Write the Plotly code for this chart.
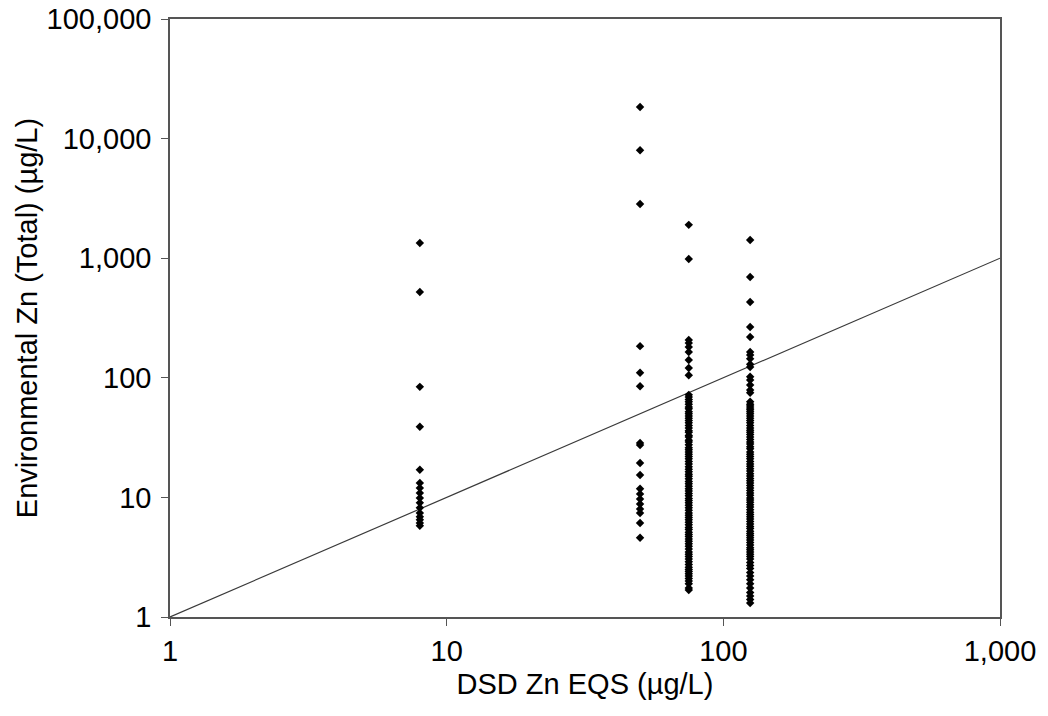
import plotly.graph_objects as go

# EQS categories (x) and measured environmental Zn (y)
eqs_8 = [1340, 522, 84, 39, 17, 13.2, 12, 10.9, 9.9, 9.0, 8.2, 7.4, 6.9, 6.5, 6.1, 5.8]
eqs_50 = [18400, 8000, 2840, 184, 110, 85, 28.5, 27.4, 19.4, 15.4, 11.8, 10.7, 9.7, 8.8, 8.0, 7.4, 6.1, 4.6]
eqs_75 = [1900, 985, 207, 195, 181, 164, 141, 121, 105,
          72, 69, 66, 63, 60, 57, 55, 52, 50, 48, 46, 44, 42, 40, 38, 36, 35, 33, 32, 30, 29,
          27.5, 26, 25, 24, 23, 22, 21, 20, 19, 18, 17.2, 16.4, 15.6, 15, 14.3, 13.6, 13, 12.4,
          11.8, 11.3, 10.8, 10.3, 9.8, 9.4, 9, 8.6, 8.2, 7.8, 7.4, 7.1, 6.8, 6.5, 6.2, 5.9, 5.6,
          5.4, 5.1, 4.9, 4.7, 4.5, 4.3, 4.1, 3.9, 3.7, 3.5, 3.35, 3.2, 3.05, 2.9, 2.75, 2.6, 2.5,
          2.4, 2.3, 2.2, 2.1, 2.0, 1.9, 1.75, 1.68]
eqs_125 = [1420, 696, 430, 266, 219, 164, 155, 144, 130, 123, 102, 96, 87, 79, 75,
           63, 60, 58, 56, 54, 52, 50, 48, 46, 44, 42, 40, 38, 36.5, 35, 33.5, 32, 30.5, 29, 28,
           26.5, 25.5, 24, 23, 22, 21, 20, 19, 18.2, 17.4, 16.6, 15.8, 15.1, 14.4, 13.8, 13.2,
           12.6, 12, 11.4, 10.9, 10.4, 9.9, 9.5, 9.1, 8.7, 8.3, 7.9, 7.5, 7.2, 6.9, 6.6, 6.3, 6,
           5.7, 5.5, 5.2, 5, 4.8, 4.6, 4.4, 4.2, 4, 3.8, 3.65, 3.5, 3.35, 3.2, 3.05, 2.85, 2.7,
           2.55, 2.35, 2.2, 2.05, 1.9, 1.75, 1.6, 1.5, 1.4, 1.31]
eqs_values = [8, 50, 75, 125]
series = [eqs_8, eqs_50, eqs_75, eqs_125]

line_x = [1, 1000]
line_y = [1, 1000]

x_tickvals = [1, 10, 100, 1000]
x_ticktext = ["1", "10", "100", "1,000"]
y_tickvals = [1, 10, 100, 1000, 10000, 100000]
y_ticktext = ["1", "10", "100", "1,000", "10,000", "100,000"]

xs, ys = [], []
for e, vals in zip(eqs_values, series):
    xs += [e] * len(vals)
    ys += vals

fig = go.Figure()
fig.add_trace(go.Scatter(x=line_x, y=line_y, mode="lines",
                         line=dict(color="#3a3a3a", width=1.2), hoverinfo="skip"))
fig.add_trace(go.Scatter(x=xs, y=ys, mode="markers",
                         marker=dict(symbol="diamond", size=6.5, color="black",
                                     line=dict(width=0))))

font = "Liberation Sans, Arial, sans-serif"
fig.update_layout(
    width=1048, height=716,
    margin=dict(l=170, r=48, t=19, b=99, autoexpand=False),
    plot_bgcolor="white", paper_bgcolor="white",
    showlegend=False,
    font=dict(family=font, size=29, color="black"),
)
fig.update_xaxes(type="log", range=[0, 3], tickvals=x_tickvals, ticktext=x_ticktext,
                 showgrid=False, zeroline=False, showline=True, linecolor="#555", linewidth=1.5,
                 mirror=True, ticks="outside", ticklen=7, tickcolor="#555", automargin=False,
                 tickfont=dict(size=29), ticklabeloverflow="allow",
                 title=dict(text="DSD Zn EQS (µg/L)", standoff=8, font=dict(size=29)))
fig.update_yaxes(type="log", range=[0, 5], tickvals=y_tickvals, ticktext=y_ticktext,
                 showgrid=False, zeroline=False, showline=True, linecolor="#555", linewidth=1.5,
                 mirror=True, ticks="outside", ticklen=7, tickcolor="#555", automargin=False,
                 tickfont=dict(size=29), ticklabeloverflow="allow", ticklabelstandoff=4,
                 title=dict(text="Environmental Zn (Total) (µg/L)", standoff=0, font=dict(size=29)))

fig.write_html("out.html", config={"displayModeBar": False},
               post_script="document.body.style.margin='0px';")
